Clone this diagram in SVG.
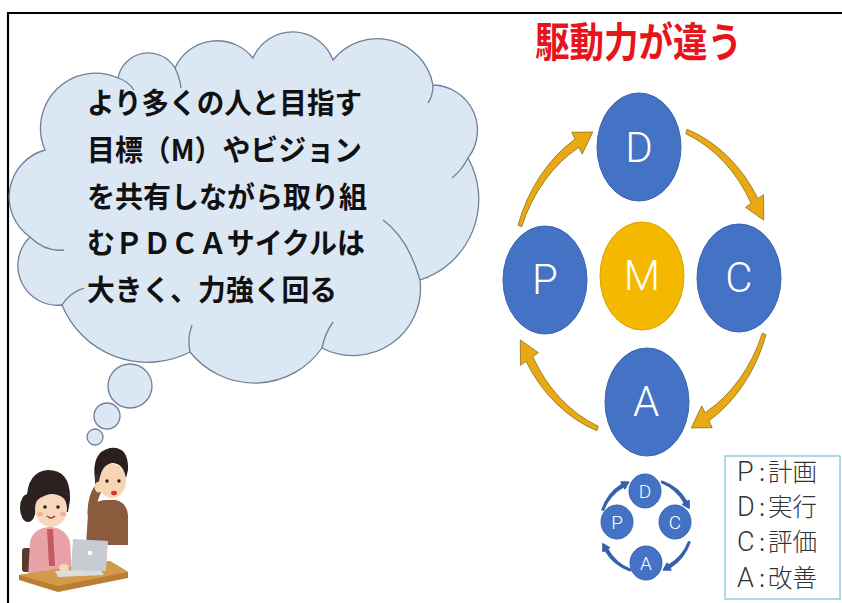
<svg xmlns="http://www.w3.org/2000/svg" width="842" height="603" viewBox="0 0 842 603">
  <defs>
    <style>
      .frame{stroke:#000;stroke-width:2.2;fill:none}
      .cloud{fill:#DCE7F4;stroke:#6F7F98;stroke-width:1.3}
      .cloud-in{fill:none;stroke:#6F7F98;stroke-width:1.3}
      .ctxt{font-family:"Noto Sans CJK JP","Noto Sans",sans-serif;font-weight:700;font-size:29px;fill:#111}
      .title{font-family:"Noto Sans CJK JP",sans-serif;font-weight:700;font-size:41px;fill:#E8141C}
      .blue{fill:#4472C4;stroke:#3A64AE;stroke-width:1}
      .gold{fill:#F5B800;stroke:#D9A300;stroke-width:1}
      .big{font-family:Roboto,"Liberation Sans",sans-serif;font-weight:300;font-size:42px;fill:#fff;text-anchor:middle}
      .small{font-family:Roboto,"Liberation Sans",sans-serif;font-weight:300;font-size:19px;fill:#fff;text-anchor:middle}
      .arr-gold{fill:#E8A914;stroke:#97771F;stroke-width:0.9}
      .arr-blue{fill:#3461AE;stroke:#3461AE;stroke-width:1.6;stroke-linejoin:round}
      .legend{fill:#fff;stroke:#8CCFE0;stroke-width:1.5}
      .lg{font-family:"Noto Sans CJK JP",sans-serif;font-weight:300;font-size:24.5px;fill:#333}
      .lgl{font-family:Roboto,"Liberation Sans",sans-serif;font-weight:300;font-size:27px;fill:#333}
    </style>
    <!-- curved arrow on a circle of radius 100, from 20deg to ~68deg (clockwise) -->
    <path id="curve" vector-effect="non-scaling-stroke"
          d="M 95.38 34.71 A 102 102 0 0 1 51.5 89.2 L 54 93.5 L 37.9 93.6 L 46 79.7 L 48.5 84 A 98 98 0 0 0 92.56 33.69 Z"/>
  </defs>

  <rect width="842" height="603" fill="#fff"/>

  <!-- frame -->
  <path class="frame" d="M8 603 V13 H842"/>

  <!-- title -->
  <text class="title" x="535" y="57" textLength="207" lengthAdjust="spacingAndGlyphs">駆動力が違う</text>

  <!-- thought cloud -->
  <g id="cloud">
    <path class="cloud" d="M30 237
      A 48.8 48.8 0 0 1 45 150
      A 55 55 0 0 1 118 78
      A 31 31 0 0 1 175 68
      A 46.1 46.1 0 0 1 253 58
      A 43.1 43.1 0 0 1 333 60
      A 56.7 56.7 0 0 1 433 85
      A 45.3 45.3 0 0 1 468 158
      A 84.7 84.7 0 0 1 420 280
      A 67.4 67.4 0 0 1 322 348
      A 82.5 82.5 0 0 1 190 352
      A 92.5 92.5 0 0 1 62 305
      A 39.7 39.7 0 0 1 30 237 Z"/>
    <path class="cloud-in" d="M30 237 Q45 252 64 250"/>
    <path class="cloud-in" d="M62 305 Q70 292 84 288"/>
    <path class="cloud-in" d="M190 352 Q187 338 192 325"/>
    <path class="cloud-in" d="M322 348 Q325 333 333 322"/>
    <path class="cloud-in" d="M420 280 Q408 238 383 220"/>
    <path class="cloud-in" d="M468 158 Q462 170 452 178"/>
    <path class="cloud-in" d="M433 85 Q433 96 428 103"/>
    <path class="cloud-in" d="M175 68 Q180 78 181 88"/>
    <path class="cloud-in" d="M118 78 Q128 81 134 90"/>
    <circle class="cloud" cx="130" cy="386" r="22"/>
    <circle class="cloud" cx="107" cy="416" r="13"/>
    <circle class="cloud" cx="95" cy="437" r="8"/>
    <text class="ctxt" x="87" y="114" textLength="275" lengthAdjust="spacingAndGlyphs">より多くの人と目指す</text>
    <text class="ctxt" x="87" y="161" textLength="275" lengthAdjust="spacingAndGlyphs">目標（M）やビジョン</text>
    <text class="ctxt" x="87" y="207.5" textLength="280" lengthAdjust="spacingAndGlyphs">を共有しながら取り組</text>
    <text class="ctxt" x="87" y="254" textLength="278" lengthAdjust="spacingAndGlyphs">むＰＤＣＡサイクルは</text>
    <text class="ctxt" x="87" y="301" textLength="250" lengthAdjust="spacingAndGlyphs">大きく、力強く回る</text>
  </g>

  <!-- people at the desk -->
  <g id="people">
    <!-- man on the phone -->
    <path d="M86 545 L88 514 Q90 502 104 500 L116 500 Q127 503 128 515 L128 545 Z" fill="#8B5B3E"/>
    <path d="M92 514 Q92 498 98 489" stroke="#8B5B3E" stroke-width="9" stroke-linecap="round" fill="none"/>
    <ellipse cx="112" cy="481" rx="14" ry="17" fill="#F7D4B2"/>
    <path d="M95 480 Q91 452 110 448 Q129 446 128 470 L126 478 Q123 463 112 463 Q101 465 99 482 Z" fill="#2A1F1C"/>
    <circle cx="107" cy="481" r="1.7" fill="#2A1F1C"/>
    <circle cx="119" cy="481" r="1.7" fill="#2A1F1C"/>
    <ellipse cx="114" cy="493" rx="3" ry="2.3" fill="#D8343C"/>
    <rect x="95" y="474" width="4" height="13" rx="1" fill="#333"/>
    <ellipse cx="99" cy="487" rx="4.5" ry="5.5" fill="#F7D4B2"/>

    <!-- woman at the laptop -->
    <rect x="22" y="548" width="10" height="24" rx="3" fill="#5A3A2A"/>
    <path d="M28 578 L30 542 Q33 528 50 527 Q66 528 70 542 L72 578 Z" fill="#E9A3A6"/>
    <path d="M47 529 L53 529 L55 566 L49 566 Z" fill="#C55A62"/>
    <ellipse cx="28" cy="508" rx="8" ry="14" fill="#2B211E"/>
    <path d="M27 505 Q25 472 48 470 Q71 470 70 500 L68 512 L34 512 Z" fill="#2B211E"/>
    <ellipse cx="51" cy="509" rx="16" ry="18" fill="#F8D8BC"/>
    <path d="M34 504 Q38 486 54 487 Q66 489 68 502 Q60 493 50 494 Q40 496 34 504 Z" fill="#2B211E"/>
    <circle cx="45" cy="507" r="1.8" fill="#2B211E"/>
    <circle cx="58" cy="507" r="1.8" fill="#2B211E"/>
    <ellipse cx="40" cy="514" rx="3" ry="2" fill="#F3A9A0"/>
    <ellipse cx="63" cy="514" rx="3" ry="2" fill="#F3A9A0"/>
    <path d="M47 516 Q51 520 55 516" stroke="#A0413E" stroke-width="1.3" fill="none"/>

    <!-- desk -->
    <path d="M19 575 L110 561 L128 572 L128 578 L58 592 L19 580 Z" fill="#B97E32"/>
    <path d="M19 575 L110 561 L128 572 L58 586 Z" fill="#D29A49"/>
    <!-- laptop -->
    <path d="M55 571 L100 569 L104 575 L58 577 Z" fill="#D9DCE1"/>
    <path d="M73 539 L108 541 L106 571 L71 570 Z" fill="#C8CBD2"/>
    <circle cx="90" cy="553" r="2.3" fill="#fff"/>
    <ellipse cx="64" cy="568" rx="5" ry="4" fill="#F8D8BC"/>
  </g>

  <!-- connectors: curved arrows of the PDCA cycle -->
  <g id="connectors">
    <use href="#curve" class="arr-gold" transform="translate(642 280) scale(1.3 1.58) rotate(180)"/>
    <use href="#curve" class="arr-gold" transform="translate(642 280) scale(1.3 1.58) rotate(270)"/>
    <use href="#curve" class="arr-gold" transform="translate(642 280) scale(1.3 1.58)"/>
    <use href="#curve" class="arr-gold" transform="translate(642 280) scale(1.3 1.58) rotate(90)"/>

    <use href="#curve" class="arr-blue" transform="translate(646 526) scale(0.46 0.47) rotate(180)"/>
    <use href="#curve" class="arr-blue" transform="translate(646 526) scale(0.46 0.47) rotate(270)"/>
    <use href="#curve" class="arr-blue" transform="translate(646 526) scale(0.46 0.47)"/>
    <use href="#curve" class="arr-blue" transform="translate(646 526) scale(0.46 0.47) rotate(90)"/>
  </g>

  <!-- large cycle -->
  <g id="node-D"><ellipse class="blue" cx="639" cy="147" rx="42" ry="54"/><text class="big" x="639" y="162">D</text></g>
  <g id="node-P"><ellipse class="blue" cx="545" cy="280" rx="42" ry="54"/><text class="big" x="545" y="294">P</text></g>
  <g id="node-M"><ellipse class="gold" cx="642" cy="276" rx="42" ry="54"/><text class="big" x="642" y="290">M</text></g>
  <g id="node-C"><ellipse class="blue" cx="739" cy="278" rx="42" ry="54"/><text class="big" x="739" y="292">C</text></g>
  <g id="node-A"><ellipse class="blue" cx="647" cy="402" rx="42" ry="54"/><text class="big" x="646" y="416">A</text></g>

  <!-- small cycle -->
  <g id="small-D"><ellipse class="blue" cx="645" cy="491" rx="16" ry="17"/><text class="small" x="645" y="498">D</text></g>
  <g id="small-P"><ellipse class="blue" cx="617" cy="522" rx="16" ry="17"/><text class="small" x="617" y="529">P</text></g>
  <g id="small-C"><ellipse class="blue" cx="675" cy="522" rx="16" ry="17"/><text class="small" x="675" y="529">C</text></g>
  <g id="small-A"><ellipse class="blue" cx="646" cy="563" rx="16" ry="17"/><text class="small" x="646" y="570">A</text></g>

  <!-- legend -->
  <g id="legend">
    <rect class="legend" x="725" y="456" width="115" height="143"/>
    <text y="481"><tspan class="lgl" x="737">P</tspan><tspan class="lg" x="759">:</tspan><tspan class="lg" x="768">計画</tspan></text>
    <text y="516"><tspan class="lgl" x="737">D</tspan><tspan class="lg" x="759">:</tspan><tspan class="lg" x="768">実行</tspan></text>
    <text y="551"><tspan class="lgl" x="737">C</tspan><tspan class="lg" x="759">:</tspan><tspan class="lg" x="768">評価</tspan></text>
    <text y="587"><tspan class="lgl" x="737">A</tspan><tspan class="lg" x="759">:</tspan><tspan class="lg" x="768">改善</tspan></text>
  </g>
</svg>
